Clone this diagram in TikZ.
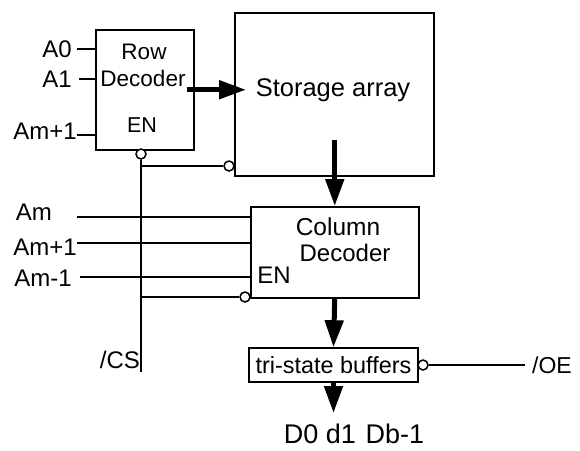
\documentclass[tikz,border=0pt]{standalone}
\usepackage{fontspec}
\setmainfont{Liberation Sans}
\usetikzlibrary{arrows.meta}
\begin{document}
\begin{tikzpicture}[x=1pt,y=-1pt,
 box/.style={draw, line width=1.5pt, inner sep=0pt, anchor=north west},
 lbl/.style={font=\fontsize{24}{26}\selectfont, inner sep=0pt},
 wire/.style={line width=1.5pt},
 bus/.style={line width=5pt, -{Triangle[length=27pt,width=18pt]}},
 bubble/.style={circle, draw, line width=1.5pt, fill=white, minimum size=10pt, inner sep=0pt}
]
\useasboundingbox[fill=white] (0,0) rectangle (580,450);

% boxes
\node[box, minimum width=98pt, minimum height=120pt] (rowdec) at (95,29) {};
\node[box, minimum width=199pt, minimum height=163pt] (store) at (234,12) {};
\node[box, minimum width=168pt, minimum height=91pt] (coldec) at (250,206) {};
\node[draw, line width=1.5pt, minimum width=169pt, minimum height=34pt, inner sep=0pt,
      font=\fontsize{23.4}{25}\selectfont] (tri) at (333.5,365) {tri-state buffers};

% texts inside boxes
\node[lbl, font=\fontsize{22.5}{24}\selectfont] (rowt) at (144,52) {Row};
\node[lbl, font=\fontsize{22.5}{24}\selectfont] (dect) at (143,78) {Decoder};
\node[lbl, font=\fontsize{21.5}{24}\selectfont] (en1) at (142,125) {EN};
\node[lbl, font=\fontsize{25.5}{28}\selectfont] (stt) at (333,90) {Storage array};
\node[lbl, font=\fontsize{24.5}{28}\selectfont] (colt) at (338,227) {Column};
\node[lbl, font=\fontsize{24}{26}\selectfont] (cdect) at (345,253) {Decoder};
\node[lbl] (en2) at (274,275) {EN};

% address labels
\node[lbl, anchor=east] (a0) at (72,49) {A0};
\node[lbl, anchor=east] (a1) at (72,79) {A1};
\node[lbl, anchor=east] (amp1) at (77,131) {Am+1};
\node[lbl, anchor=east] (am) at (52,212) {Am};
\node[lbl, anchor=east] (amp1b) at (77,247) {Am+1};
\node[lbl, anchor=east] (amm1) at (72,278) {Am-1};
\node[lbl] (cs) at (120,360) {/CS};
\node[lbl, font=\fontsize{23}{26}\selectfont, anchor=west] (oe) at (532,365) {/OE};
\node[lbl, font=\fontsize{27}{29}\selectfont] (data) at (354,434) {D0 d1\hspace{0.36em}Db-1};

% address wires
\coordinate (a0s) at (77,49);
\coordinate (a1s) at (79,79);
\coordinate (amp1s) at (77,135);
\coordinate (ams) at (77,217);
\coordinate (amp1bs) at (77,243);
\coordinate (amm1s) at (80,277);
\draw[wire] (a0s) -- (a0s -| rowdec.west);
\draw[wire] (a1s) -- (a1s -| rowdec.west);
\draw[wire] (amp1s) -- (amp1s -| rowdec.west);
\draw[wire] (ams) -- (ams -| coldec.west);
\draw[wire] (amp1bs) -- (amp1bs -| coldec.west);
\draw[wire] (amm1s) -- (amm1s -| coldec.west);

% chip select
\node[bubble] (rdb) at (141,154) {};
\node[bubble] (sb) at (229,166) {};
\node[bubble] (cb) at (245,297) {};
\coordinate (csend) at (141,372);
\coordinate (j1) at (141,166);
\coordinate (j2) at (141,297);
\draw[wire] (rdb.south) -- (csend);
\draw[wire] (j1) -- (sb.west);
\draw[wire] (j2) -- (cb.west);

% output enable
\node[bubble] (tb) at (423,365) {};
\coordinate (oeend) at (525,365);
\draw[wire] (tb.east) -- (oeend);

% buses
\draw[bus] ([xshift=-8pt]rowdec.east) -- ([xshift=12pt]rowdec.east -| store.west);
\draw[bus] ([yshift=37pt]coldec.north |- store.south) -- (coldec.north);
\draw[bus] (coldec.south) -- (tri.north);
\coordinate (dend) at (333.5,413);
\draw[bus] (tri.south) -- (dend);
\end{tikzpicture}
\end{document}
